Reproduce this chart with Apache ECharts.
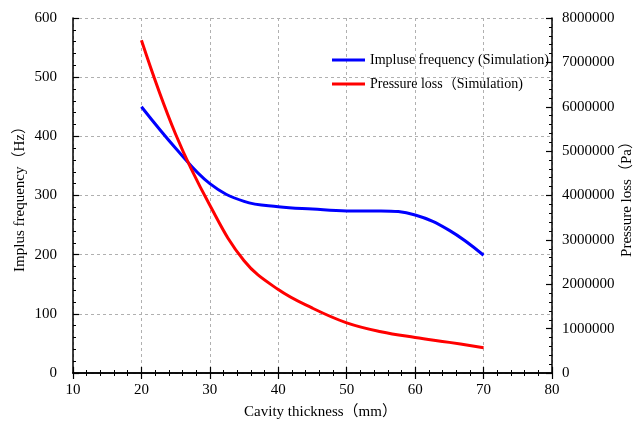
<!DOCTYPE html>
<html>
<head>
<meta charset="utf-8">
<script src="https://cdn.jsdelivr.net/npm/echarts@6/dist/echarts.min.js"></script>
<style>
  html, body { margin: 0; padding: 0; background: #fff; }
  #main { width: 635px; height: 428px; }
</style>
</head>
<body>
<div id="main"></div>
<script>
// cavity thickness (mm)
const thickness = [20, 25, 30, 35, 40, 45, 50, 55, 60, 65, 70]
// impulse frequency (Hz), left axis
const frequency = [450, 380, 320, 290, 281, 277, 274, 274, 267, 241, 199]
// pressure loss (Pa), right axis
const pressureLoss = [7500000, 5380000, 3780000, 2530000, 1880000, 1460000, 1130000, 930000, 800000, 690000, 570000]

const font = '"Liberation Serif", "Times New Roman", "Noto Sans CJK SC", serif'
const black = '#000'

const tickStyle = {
    axisLine: { show: true, lineStyle: { color: black, width: 1.5 } },
    axisTick: { show: true, inside: true, length: 6, lineStyle: { color: black, width: 1.2 } },
    minorTick: { show: true, splitNumber: 5, length: 3, lineStyle: { color: black, width: 1 } },
}

const chart = echarts.init(document.getElementById('main'))

const option = {
    animation: false,
    backgroundColor: '#fff',
    grid: { left: 73, right: 83, top: 18, bottom: 55, outerBoundsMode: 'none', containLabel: false },
    legend: {
        orient: 'vertical',
        left: 327,
        top: 47,
        icon: 'rect',
        itemWidth: 33,
        itemHeight: 3,
        itemGap: 8,
        textStyle: { fontFamily: font, fontSize: 14, color: black, lineHeight: 16 },
        data: ['Impluse frequency (Simulation)', 'Pressure loss（Simulation)']
    },
    xAxis: [
        {
            type: 'value',
            min: 10, max: 80, interval: 10,
            name: 'Cavity thickness（mm）',
            nameLocation: 'middle',
            nameGap: 32,
            nameMoveOverlap: false,
            nameTextStyle: { fontFamily: font, fontSize: 15, color: black, padding: [0, 0, 0, 16] },
            axisLabel: { fontFamily: font, fontSize: 15, color: black, margin: 10 },
            splitLine: { show: true, lineStyle: { color: '#b0b0b0', type: [3, 3], width: 1 } },
            ...tickStyle
        },
        {
            type: 'value',
            position: 'top',
            min: 10, max: 80, interval: 10,
            axisLabel: { show: false },
            splitLine: { show: false },
            ...tickStyle
        }
    ],
    yAxis: [
        {
            type: 'value',
            min: 0, max: 600, interval: 100,
            name: 'Implus frequency（Hz）',
            nameLocation: 'middle',
            nameGap: 45,
            nameMoveOverlap: false,
            nameTextStyle: { fontFamily: font, fontSize: 15, color: black },
            axisLabel: { fontFamily: font, fontSize: 15, color: black, margin: 16 },
            splitLine: { show: true, lineStyle: { color: '#b0b0b0', type: [3, 3], width: 1 } },
            ...tickStyle
        },
        {
            type: 'value',
            position: 'right',
            min: 0, max: 8000000, interval: 1000000,
            name: 'Pressure loss（Pa）',
            nameLocation: 'middle',
            nameGap: 68,
            nameMoveOverlap: false,
            nameTextStyle: { fontFamily: font, fontSize: 15, color: black },
            axisLabel: { fontFamily: font, fontSize: 15, color: black, margin: 10, formatter: v => String(v) },
            splitLine: { show: false },
            ...tickStyle
        }
    ],
    series: [
        {
            name: 'Impluse frequency (Simulation)',
            type: 'line',
            yAxisIndex: 0,
            smooth: 0.4,
            symbol: 'none',
            lineStyle: { color: '#0000ff', width: 3 },
            itemStyle: { color: '#0000ff' },
            data: thickness.map((t, i) => [t, frequency[i]])
        },
        {
            name: 'Pressure loss（Simulation)',
            type: 'line',
            yAxisIndex: 1,
            smooth: 0.4,
            symbol: 'none',
            lineStyle: { color: '#ff0000', width: 3 },
            itemStyle: { color: '#ff0000' },
            data: thickness.map((t, i) => [t, pressureLoss[i]])
        }
    ]
}

chart.setOption(option)
</script>
</body>
</html>
